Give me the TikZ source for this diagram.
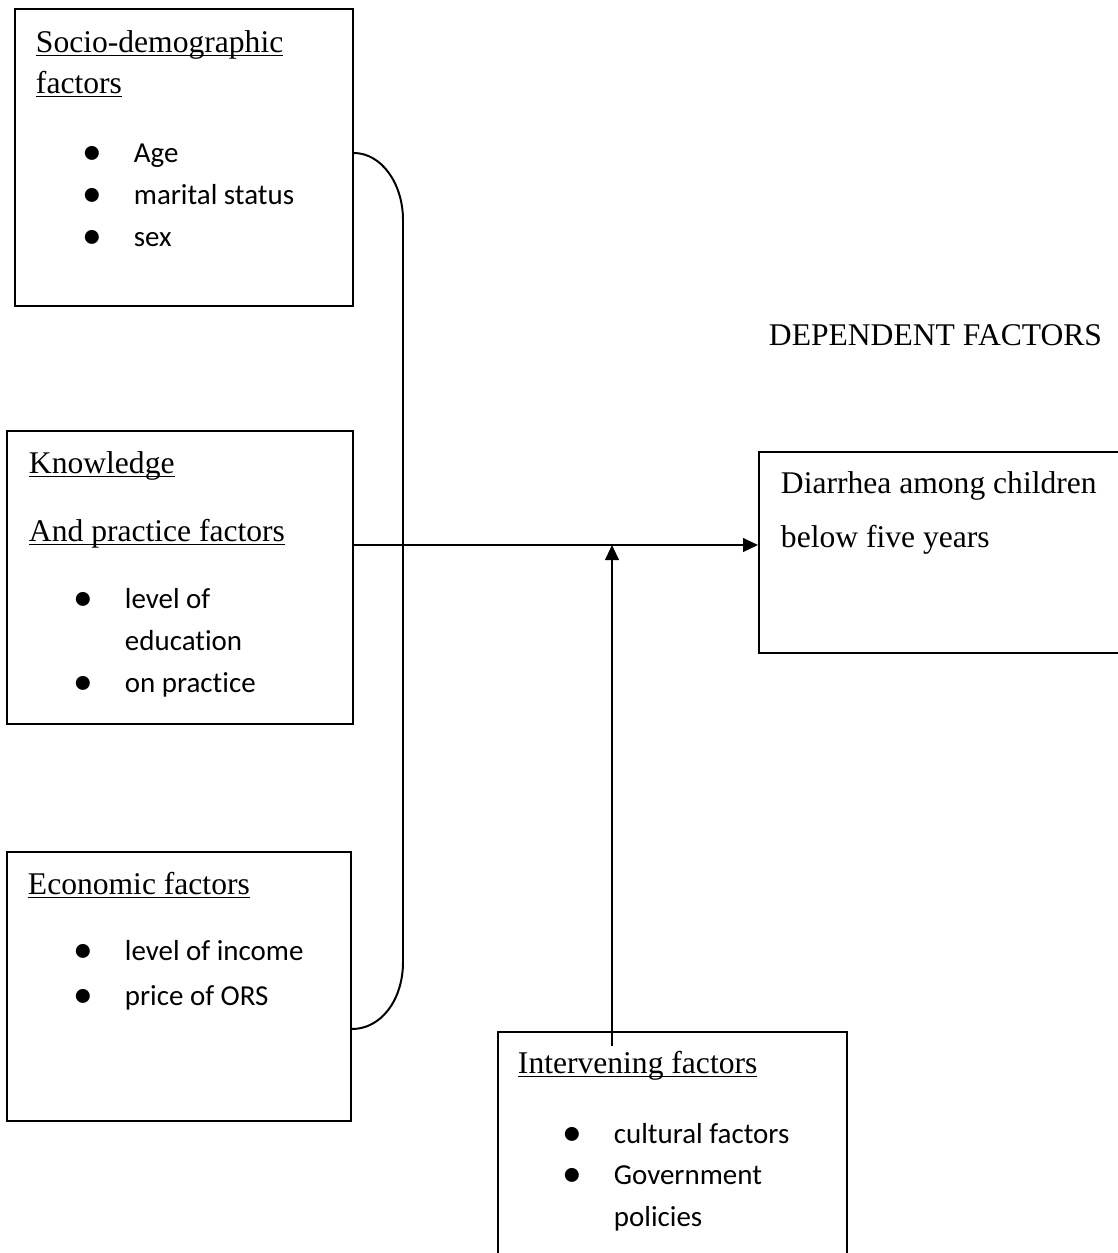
\documentclass[tikz,border=0pt]{standalone}
\usepackage{fontspec}
\setmainfont{Liberation Serif}
\newfontfamily\calibri[Ligatures=NoCommon]{Carlito}
\usepackage{tikz}
\usetikzlibrary{fit,arrows.meta}
\newcommand\headul[1]{\setbox0=\hbox{#1}\rlap{\rule[-1.6pt]{\wd0}{0.6pt}}\box0}
\newcommand\bul{\makebox[18.2pt][l]{\hspace{-1.2pt}\fontsize{15}{15}\selectfont\raisebox{-0.8pt}{•}}}

\begin{document}
\begin{tikzpicture}[x=0.38pt,y=-0.38pt,line width=0.75pt,
    factbox/.style={draw,inner sep=0pt},
    head/.style={anchor=base west,inner sep=0pt,font=\fontsize{12}{14}\selectfont},
    item/.style={anchor=base west,inner sep=0pt,font=\calibri\fontsize{11}{13}\selectfont}]
                      \useasboundingbox (0,0) rectangle (1118,1253);
                      \clip (0,0) rectangle (1118,1253);
                      \node[factbox,fit={(15,9) (353,306)}](socio){};
                      \node[factbox,fit={(7,431) (353,724)}](know){};
                      \node[factbox,fit={(7,852) (351,1121)}](econ){};
                      \node[factbox,fit={(759,452) (1130,653)}](diarrhea){};
                      \node[factbox,fit={(498,1032) (847,1270)}](interv){};
                      \node[head](sociohA)at(35,52){\headul{Socio-demographic}};
                      \node[head](sociohB)at(35,93){\headul{factors}};
                      \node[item](socioA)at(85,162){\bul Age};
                      \node[item](socioB)at(85,204){\bul marital status};
                      \node[item](socioC)at(85,246){\bul sex};
                      \node[head](knowhA)at(28,473){\headul{Knowledge}};
                      \node[head](knowhB)at(28,541){\headul{And practice factors}};
                      \node[item](knowA)at(76,608){\bul level of};
                      \node[item](knowB)at(124,650){education};
                      \node[item](knowC)at(76,692){\bul on practice};
                      \node[head](econh)at(27,894){\headul{Economic factors}};
                      \node[item](econA)at(76,960){\bul level of income};
                      \node[item](econB)at(76,1005){\bul price of ORS};
                      \node[head](deptitle)at(768,345){DEPENDENT FACTORS};
                      \node[head](diarrheaA)at(780,493){Diarrhea among children};
                      \node[head](diarrheaB)at(780,547){below five years};
                      \node[head](intervh)at(517,1073){\headul{Intervening factors}};
                      \node[item](intervA)at(565,1143){\bul cultural factors};
                      \node[item](intervB)at(565,1184){\bul Government};
                      \node[item](intervC)at(613,1226){policies};
                      \coordinate(bracetop)at(socio.east|-0,153);
                      \coordinate(bracebot)at(econ.east|-0,1029);
                      \coordinate(join)at(know.east|-0,545);
                      \coordinate(intervfoot)at(612,1046);
                      \draw(bracetop)..controls(381,153)and(403,183)..(403,220)--(403,962)..controls(403,1000)and(381,1029)..(bracebot);
                      \draw[-{Triangle[length=5.7pt,width=5.2pt]}](join)--(join-|diarrhea.west);
                      \draw[-{Triangle[length=5.7pt,width=5.2pt]}](intervfoot)--(intervfoot|-join);
                  \end{tikzpicture}
\end{document}
